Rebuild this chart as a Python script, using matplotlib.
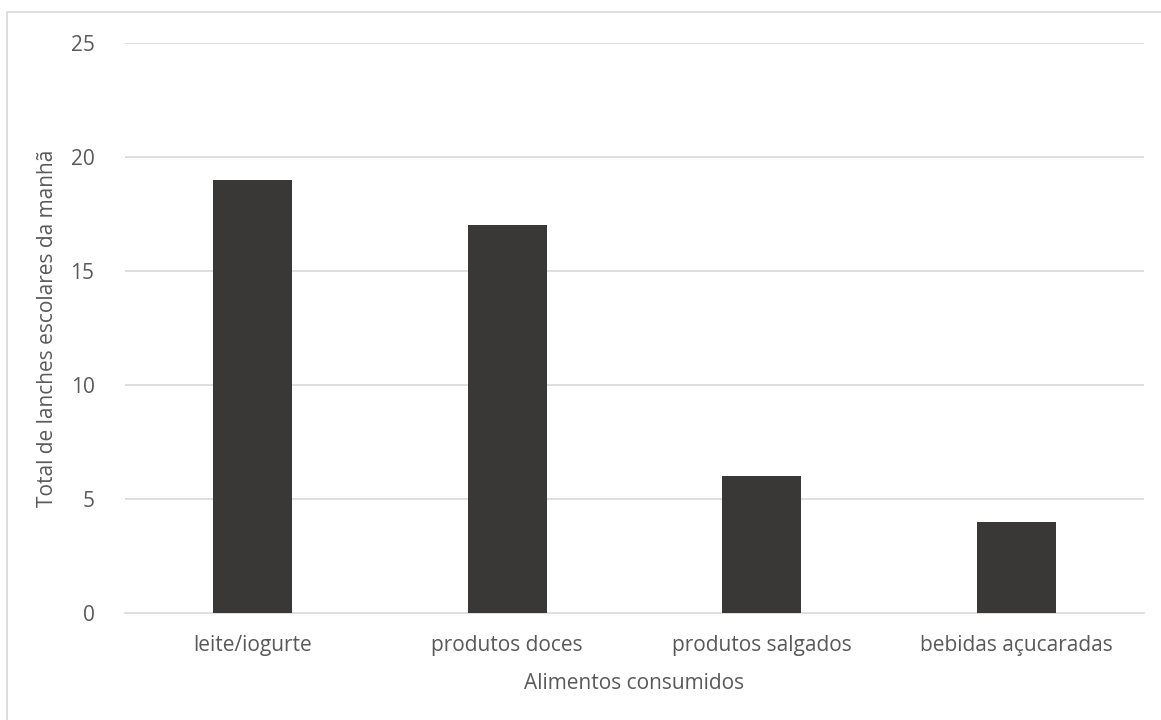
import matplotlib
matplotlib.use("Agg")
import matplotlib.pyplot as plt
from matplotlib.patches import Rectangle

categories = ["leite/iogurte", "produtos doces", "produtos salgados", "bebidas açucaradas"]
values = [19, 17, 6, 4]
yticks = [0, 5, 10, 15, 20, 25]

text_color = "#595959"
grid_color = "#d9d9d9"
bar_color = "#3a3836"

plt.rcParams["font.family"] = ["Open Sans", "DejaVu Sans"]

fig = plt.figure(figsize=(11.61, 7.2), dpi=100)
ax = fig.add_axes([125 / 1161, (720 - 613) / 720, (1144 - 125) / 1161, (613 - 43) / 720])

# outer chart border (cropped at right and bottom)
fig.patches.append(Rectangle((7 / 1161, -0.01), 1.1, (720 - 12) / 720 + 0.01,
                             transform=fig.transFigure, fill=False,
                             edgecolor=grid_color, linewidth=1.2))

x = range(len(categories))
ax.bar(x, values, width=0.31, color=bar_color, zorder=3)

ax.set_xlim(-0.5, len(categories) - 0.5)
ax.set_ylim(0, 25)
ax.set_yticks(yticks)
ax.set_xticks(list(x))
ax.set_xticklabels(categories)

for y in yticks[1:]:
    ax.axhline(y, color=grid_color, linewidth=1.2, zorder=1)

for side in ["top", "right", "left"]:
    ax.spines[side].set_visible(False)
ax.spines["bottom"].set_color(grid_color)
ax.spines["bottom"].set_linewidth(1.2)

ax.tick_params(axis="both", length=0, labelsize=15, colors=text_color)
ax.tick_params(axis="x", pad=16)
ax.tick_params(axis="y", pad=22)

ax.set_xlabel("Alimentos consumidos", fontsize=15, color=text_color, labelpad=12)
ax.set_ylabel("Total de lanches escolares da manhã", fontsize=15, color=text_color, labelpad=9)

fig.savefig("out.png", dpi=100)
